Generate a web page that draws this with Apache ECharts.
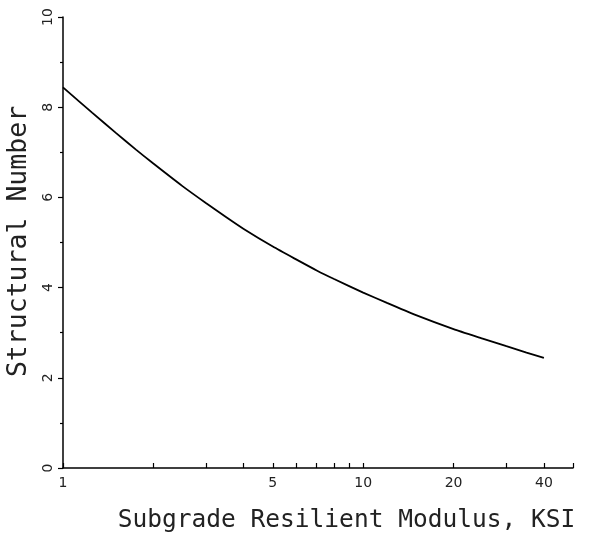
<!DOCTYPE html>
<html>
<head>
<meta charset="utf-8">
<script src="https://cdn.jsdelivr.net/npm/echarts@6/dist/echarts.min.js"></script>
<style>html,body{margin:0;padding:0;background:#fff}#c{width:592px;height:536px}</style>
</head>
<body>
<div id="c"></div>
<script>
const modulus = [1, 1.25, 1.5, 1.75, 2, 2.5, 3, 3.5, 4, 5, 6, 7, 8, 10, 12, 15, 20, 25, 30, 35, 40];
const structuralNumber = [8.44, 7.88, 7.43, 7.06, 6.75, 6.25, 5.87, 5.56, 5.30, 4.91, 4.62, 4.38, 4.19, 3.89, 3.66, 3.39, 3.08, 2.87, 2.70, 2.56, 2.44];
const xLabelValues = [1, 5, 10, 20, 40];
const xTickValues = [1, 2, 3, 4, 5, 6, 7, 8, 9, 10, 20, 30, 40, 50];
const yLabelValues = [0, 2, 4, 6, 8, 10];
const xTitle = 'Subgrade Resilient Modulus, KSI';
const yTitle = 'Structural Number';

const chart = echarts.init(document.getElementById('c'));
const font = 'DejaVu Sans';
const titleFont = 'DejaVu Sans Mono';
chart.setOption({
  animation: false,
  backgroundColor: '#fff',
  grid: { left: 63, right: 19, top: 17, bottom: 68, containLabel: false, outerBoundsMode: 'none' },
  xAxis: {
    type: 'log', logBase: 10, min: 1, max: 50,
    name: xTitle, nameLocation: 'middle', nameGap: 40,
    nameTextStyle: { fontFamily: titleFont, fontSize: 24.5, color: '#222', padding: [0, 0, 0, 57] },
    axisLine: { show: true, lineStyle: { color: '#000', width: 1.5 } },
    axisTick: { show: true, inside: true, length: 5, customValues: xTickValues, lineStyle: { color: '#000', width: 1.2 } },
    axisLabel: { customValues: xLabelValues, fontFamily: font, fontSize: 14, color: '#222', margin: 8, formatter: v => String(v) },
    minorTick: { show: false },
    splitLine: { show: false }
  },
  yAxis: {
    type: 'value', min: 0, max: 10, interval: 2,
    name: yTitle, nameLocation: 'middle', nameGap: 23,
    nameTextStyle: { fontFamily: titleFont, fontSize: 26.5, color: '#222', padding: [0, 0, 0, 2] },
    axisLine: { show: true, lineStyle: { color: '#000', width: 1.5 } },
    axisTick: { show: true, inside: false, length: 5, lineStyle: { color: '#000', width: 1.2 } },
    minorTick: { show: true, splitNumber: 2, length: 3, lineStyle: { color: '#000', width: 1.2 } },
    axisLabel: { rotate: 90, fontFamily: font, fontSize: 14, color: '#222', margin: 8, customValues: yLabelValues },
    splitLine: { show: false }
  },
  series: [{
    type: 'line',
    data: modulus.map((m, i) => [m, structuralNumber[i]]),
    smooth: 0.2,
    showSymbol: false,
    lineStyle: { color: '#000', width: 1.8 }
  }]
});
</script>
</body>
</html>
